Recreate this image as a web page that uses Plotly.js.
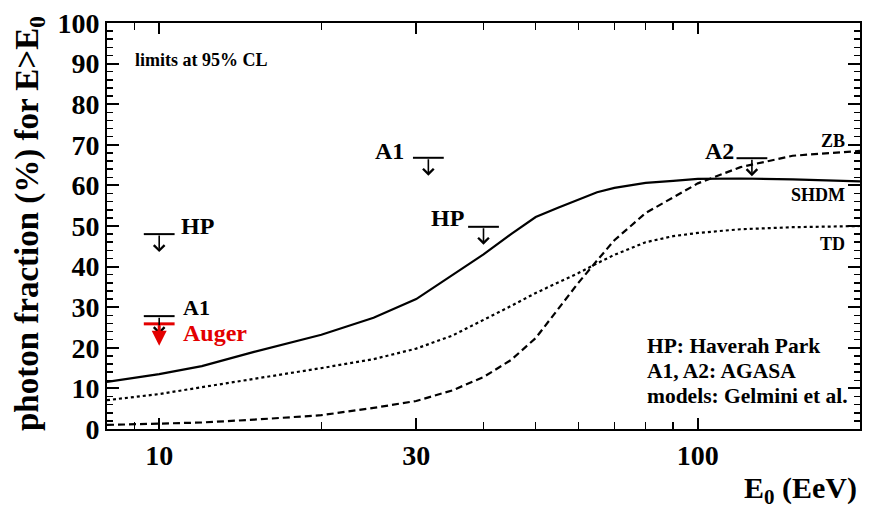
<!DOCTYPE html>
<html>
<head>
<meta charset="utf-8">
<script src="https://cdn.plot.ly/plotly-3.0.1.min.js"></script>
<style>html,body{margin:0;padding:0;background:#fff;}#chart{width:872px;height:519px;}</style>
</head>
<body>
<div id="chart"></div>
<script>
// ---- data ----
const energy = [8, 10, 12, 15, 20, 25, 30, 35, 40, 45, 50, 55, 60, 65, 70, 80, 90, 100, 120, 150, 200];
const shdm   = [11.6, 13.5, 15.5, 19, 23.2, 27.4, 32, 38, 43, 48, 52.2, 54.5, 56.5, 58.3, 59.4, 60.6, 61.1, 61.6, 61.7, 61.5, 61];
const td     = [7.1, 8.6, 10.3, 12.3, 15, 17.2, 19.8, 23, 26.8, 30.3, 33.5, 36, 38.4, 40.8, 42.9, 46, 47.5, 48.3, 49.2, 49.7, 50];
const zb     = [1, 1.3, 1.6, 2.3, 3.4, 5.2, 6.9, 9.5, 12.8, 17, 22.4, 29.5, 36, 41.5, 46.5, 53.2, 57, 60.5, 64.5, 67.3, 68.5];
const modelNames = ['SHDM', 'TD', 'ZB'];

const limitE     = [10, 10, 10, 31.6, 40, 126];
const limitVal   = [48, 27.8, 25.9, 66.8, 49.8, 66.7];
const limitLabel = ['HP', 'A1', 'Auger', 'A1', 'HP', 'A2'];
const isAuger    = [false, false, true, false, false, false];

const xTickVals  = [10, 30, 100];
const xTickText  = ['10', '30', '100'];
const xMinorVals = [8, 9, 20, 40, 50, 60, 70, 80, 90, 200];

const noteLines = ['HP: Haverah Park', 'A1, A2: AGASA', 'models: Gelmini et al.'];

// ---- helpers ----
const FONT = "'Liberation Serif', 'DejaVu Serif', serif";
const L = 107, R = 860, T = 23, B = 429;
const px = x => (x - L) / (R - L);
const py = y => (B - y) / (B - T);
const RED = '#e30000';
const F = (size, color) => ({family: FONT, size: size, color: color || 'black', weight: 'bold'});

const traces = [
  {x: energy, y: shdm, mode: 'lines', line: {color: 'black', width: 2.2}, name: modelNames[0]},
  {x: energy, y: td, mode: 'lines', line: {color: 'black', width: 2.2, dash: 'dot'}, name: modelNames[1]},
  {x: energy, y: zb, mode: 'lines', line: {color: 'black', width: 2.2, dash: '7px,4px'}, name: modelNames[2]},
  {x: limitE, y: limitVal, mode: 'markers', name: 'limits',
   marker: {symbol: 'line-ew', size: 22, color: limitE.map((e, i) => isAuger[i] ? RED : 'black'),
            line: {width: limitE.map((e, i) => isAuger[i] ? 3 : 2), color: limitE.map((e, i) => isAuger[i] ? RED : 'black')}}}
];

const ann = [];
// arrows below each limit bar
limitE.forEach((e, i) => {
  ann.push({x: Math.log10(e), y: limitVal[i], xref: 'x', yref: 'y', text: '', showarrow: true,
    ax: 0, ay: isAuger[i] ? -22 : -18, yshift: isAuger[i] ? -22 : -18,
    arrowhead: isAuger[i] ? 2 : 4, arrowsize: isAuger[i] ? 1 : 1.3, arrowwidth: isAuger[i] ? 3 : 1.6,
    arrowcolor: isAuger[i] ? RED : 'black'});
});
// labels for limits
const labelShift = [[20, 8, 'left'], [22, 9, 'left'], [22, -9, 'left'], [-22, 7, 'right'], [-18, 9, 'right'], [-16, 7, 'right']];
limitE.forEach((e, i) => {
  ann.push({x: Math.log10(e), y: limitVal[i], xref: 'x', yref: 'y', text: limitLabel[i],
    showarrow: false, xanchor: labelShift[i][2], yanchor: 'middle', xshift: labelShift[i][0], yshift: labelShift[i][1],
    font: F(isAuger[i] ? 24 : (i === 1 ? 22 : 24), isAuger[i] ? RED : 'black')});
});
// model labels at end of curves
const series = [shdm, td, zb];
const modelShift = [-14, -18, 10];
series.forEach((s, i) => {
  ann.push({x: Math.log10(energy[energy.length - 1]), y: s[s.length - 1], xref: 'x', yref: 'y',
    text: modelNames[i], showarrow: false, xanchor: 'right', yanchor: 'middle',
    xshift: -13, yshift: modelShift[i], font: F(18)});
});
// notes
noteLines.forEach((t, i) => {
  ann.push({x: px(645), y: py(346 + 25 * i), xref: 'paper', yref: 'paper', text: t,
    showarrow: false, xanchor: 'left', yanchor: 'middle', font: F(21.5)});
});
ann.push({x: px(133), y: py(60), xref: 'paper', yref: 'paper', text: 'limits at 95% CL',
  showarrow: false, xanchor: 'left', yanchor: 'middle', font: F(18)});
// axis titles
ann.push({x: px(859), y: py(490), xref: 'paper', yref: 'paper', text: 'E<sub>0</sub> (EeV)',
  showarrow: false, xanchor: 'right', yanchor: 'middle', font: F(30)});
ann.push({x: px(29), y: py(224), xref: 'paper', yref: 'paper', text: 'photon fraction (%) for E&gt;E<sub>0</sub>',
  showarrow: false, xanchor: 'center', yanchor: 'middle', textangle: -90, font: F(33)});

const layout = {
  width: 872, height: 519,
  margin: {l: L, r: 872 - R, t: T, b: 519 - B},
  paper_bgcolor: 'white', plot_bgcolor: 'white',
  showlegend: false,
  font: F(16),
  xaxis: {type: 'log', range: [Math.log10(8), Math.log10(200)], showgrid: false, zeroline: false,
    showline: true, linewidth: 2, linecolor: 'black', mirror: 'ticks',
    tickmode: 'array', tickvals: xTickVals, ticktext: xTickText,
    ticks: 'inside', ticklen: 11, tickwidth: 2, tickcolor: 'black',
    tickfont: F(28),
    minor: {tickmode: 'array', tickvals: xMinorVals, ticks: 'inside', ticklen: 7, tickwidth: 1.5, tickcolor: 'black', showgrid: false}},
  yaxis: {range: [0, 100], dtick: 10, showgrid: false, zeroline: false,
    showline: true, linewidth: 2, linecolor: 'black', mirror: 'ticks',
    ticks: 'inside', ticklen: 12, tickwidth: 2, tickcolor: 'black',
    tickfont: F(28),
    minor: {dtick: 2, ticks: 'inside', ticklen: 6, tickwidth: 1.5, tickcolor: 'black', showgrid: false}},
  annotations: ann
};

Plotly.newPlot('chart', traces, layout, {staticPlot: true, displayModeBar: false});
</script>
</body>
</html>
